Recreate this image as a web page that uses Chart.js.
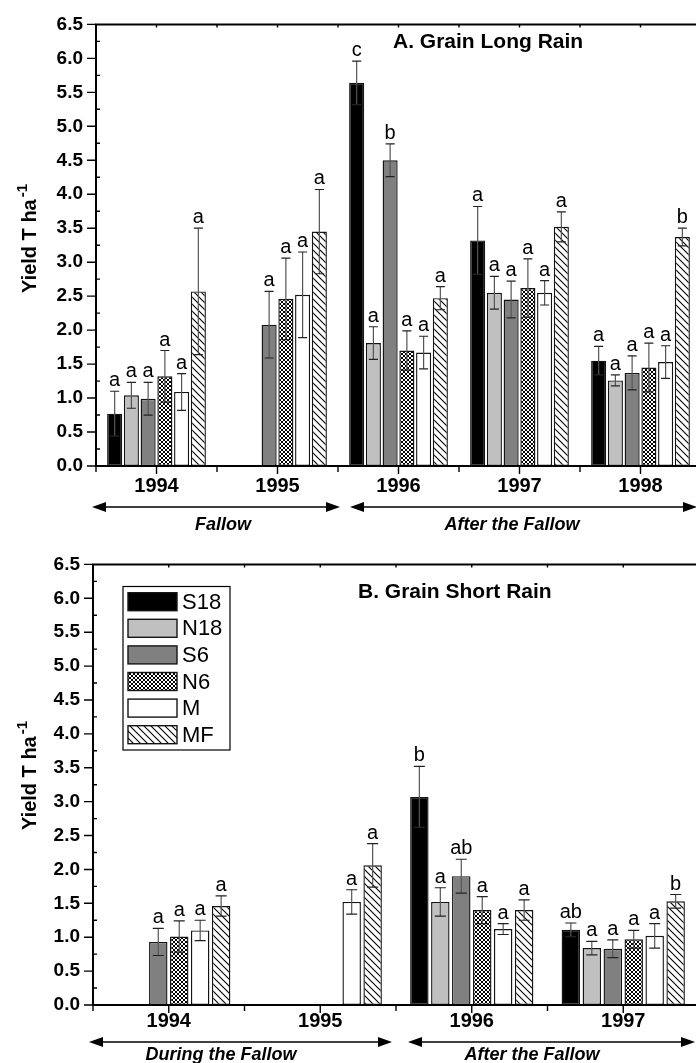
<!DOCTYPE html>
<html>
<head>
<meta charset="utf-8">
<script src="https://cdn.jsdelivr.net/npm/chart.js@4.4.1/dist/chart.umd.min.js"></script>
<style>
  html, body { margin: 0; padding: 0; background: #fff; overflow: hidden; }
  #topChart { position: absolute; left: 0; top: 0; }
  #bottomChart { position: absolute; left: 0; top: 540px; }
</style>
</head>
<body>
<canvas id="topChart" width="706" height="540"></canvas>
<canvas id="bottomChart" width="706" height="523"></canvas>
<script>
// Treatments (order of bars inside each year)
const treatments = ['S18', 'N18', 'S6', 'N6', 'M', 'MF'];

// A. Grain Long Rain
const longYears = ['1994', '1995', '1996', '1997', '1998'];
// one row per treatment: S18, N18, S6, N6, M, MF
const longYield = [
  [0.77, null, 5.64, 3.32, 1.55],
  [1.04, null, 1.81, 2.55, 1.26],
  [0.99, 2.08, 4.50, 2.45, 1.37],
  [1.32, 2.46, 1.70, 2.62, 1.45],
  [1.09, 2.52, 1.67, 2.55, 1.53],
  [2.57, 3.45, 2.47, 3.52, 3.37],
];
const longError = [
  [0.33, null, 0.32, 0.50, 0.21],
  [0.19, null, 0.24, 0.24, 0.08],
  [0.24, 0.49, 0.24, 0.27, 0.25],
  [0.38, 0.60, 0.29, 0.43, 0.36],
  [0.27, 0.63, 0.24, 0.18, 0.24],
  [0.93, 0.62, 0.17, 0.22, 0.13],
];
const longLetters = [
  ['a', null, 'c', 'a', 'a'],
  ['a', null, 'a', 'a', 'a'],
  ['a', 'a', 'b', 'a', 'a'],
  ['a', 'a', 'a', 'a', 'a'],
  ['a', 'a', 'a', 'a', 'a'],
  ['a', 'a', 'a', 'a', 'b'],
];

// B. Grain Short Rain
const shortYears = ['1994', '1995', '1996', '1997'];
const shortYield = [
  [null, null, 3.07, 1.11],
  [null, null, 1.52, 0.84],
  [0.93, null, 1.90, 0.83],
  [1.01, null, 1.40, 0.97],
  [1.10, 1.52, 1.12, 1.02],
  [1.46, 2.06, 1.40, 1.53],
];
const shortError = [
  [null, null, 0.45, 0.10],
  [null, null, 0.21, 0.10],
  [0.20, null, 0.25, 0.13],
  [0.23, null, 0.20, 0.13],
  [0.15, 0.18, 0.08, 0.18],
  [0.15, 0.32, 0.15, 0.10],
];
const shortLetters = [
  [null, null, 'b', 'ab'],
  [null, null, 'a', 'a'],
  ['a', null, 'ab', 'a'],
  ['a', null, 'a', 'a'],
  ['a', 'a', 'a', 'a'],
  ['a', 'a', 'a', 'b'],
];

const FONT = '"Liberation Sans", Arial, Helvetica, sans-serif';
Chart.defaults.font.family = FONT;
Chart.defaults.color = '#000';

// Fill patterns
function makeHatch() {
  const c = document.createElement('canvas');
  c.width = c.height = 7;
  const g = c.getContext('2d');
  g.fillStyle = '#fff';
  g.fillRect(0, 0, 7, 7);
  g.strokeStyle = '#000';
  g.lineWidth = 1.1;
  g.beginPath();
  g.moveTo(-1, -1); g.lineTo(8, 8);
  g.moveTo(-1, 6); g.lineTo(1, 8);
  g.moveTo(6, -1); g.lineTo(8, 1);
  g.stroke();
  return g.createPattern(c, 'repeat');
}

function makeCross() {
  const c = document.createElement('canvas');
  c.width = c.height = 4;
  const g = c.getContext('2d');
  g.fillStyle = '#fff';
  g.fillRect(0, 0, 4, 4);
  g.strokeStyle = '#000';
  g.lineWidth = 1;
  g.beginPath();
  g.moveTo(-1, -1); g.lineTo(5, 5);
  g.moveTo(-1, 5); g.lineTo(5, -1);
  g.stroke();
  return g.createPattern(c, 'repeat');
}

const fills = ['#000000', '#c0c0c0', '#808080', makeCross(), '#ffffff', makeHatch()];

function buildDatasets(yields, errors, letters) {
  return treatments.map((name, i) => ({
    label: name,
    data: yields[i],
    errors: errors[i],
    letters: letters[i],
    backgroundColor: fills[i],
    borderColor: '#141414',
    borderWidth: 1.4,
    borderSkipped: false,
  }));
}

// Error bars and significance letters
const errorBars = {
  id: 'errorBars',
  afterDatasetsDraw(chart) {
    const { ctx } = chart;
    const y = chart.scales.y;
    ctx.save();
    chart.data.datasets.forEach((ds, i) => {
      const meta = chart.getDatasetMeta(i);
      meta.data.forEach((bar, j) => {
        const v = ds.data[j];
        if (v == null) return;
        const e = ds.errors[j];
        const top = y.getPixelForValue(v + e);
        const bot = y.getPixelForValue(v - e);
        const cap = bar.width * 0.3;
        ctx.strokeStyle = '#555';
        ctx.lineWidth = 1.2;
        ctx.beginPath();
        ctx.moveTo(bar.x, top);
        ctx.lineTo(bar.x, bot);
        ctx.stroke();
        ctx.strokeStyle = '#222';
        ctx.beginPath();
        ctx.moveTo(bar.x - cap, top); ctx.lineTo(bar.x + cap, top);
        ctx.moveTo(bar.x - cap, bot); ctx.lineTo(bar.x + cap, bot);
        ctx.stroke();
        if (ds.letters[j]) {
          ctx.fillStyle = '#000';
          ctx.font = '20px ' + FONT;
          ctx.textAlign = 'center';
          ctx.textBaseline = 'alphabetic';
          ctx.fillText(ds.letters[j], bar.x, top - 5);
        }
      });
    });
    ctx.restore();
  },
};

// Axis frame with major / minor ticks
const frame = {
  id: 'frame',
  afterDraw(chart) {
    const { ctx, chartArea: a } = chart;
    const x = chart.scales.x;
    const y = chart.scales.y;
    const n = chart.data.labels.length;
    const w = (a.right - a.left) / n;
    ctx.save();
    ctx.strokeStyle = '#000';
    ctx.lineWidth = 2;
    ctx.beginPath();
    ctx.moveTo(a.left - 1, a.top); ctx.lineTo(a.right, a.top);
    ctx.moveTo(a.left, a.top); ctx.lineTo(a.left, a.bottom);
    ctx.moveTo(a.left - 1, a.bottom); ctx.lineTo(a.right, a.bottom);
    ctx.moveTo(a.right, a.top); ctx.lineTo(a.right, a.bottom);
    ctx.stroke();

    ctx.lineWidth = 1.4;
    ctx.beginPath();
    y.ticks.forEach((t) => {
      const py = y.getPixelForValue(t.value);
      ctx.moveTo(a.left - 9, py); ctx.lineTo(a.left, py);
      if (t.value < 6.5) {
        const pm = y.getPixelForValue(t.value + 0.25);
        ctx.moveTo(a.left, pm); ctx.lineTo(a.left + 4, pm);
      }
    });
    for (let i = 0; i < n; i++) {
      const c = x.getPixelForValue(i);
      const b = c - w / 2;
      ctx.moveTo(c, a.bottom); ctx.lineTo(c, a.bottom + 8);
      ctx.moveTo(c, a.top); ctx.lineTo(c, a.top + 3);
      ctx.moveTo(b, a.bottom); ctx.lineTo(b, a.bottom + 6);
      ctx.moveTo(b, a.top); ctx.lineTo(b, a.top + 3);
    }
    ctx.stroke();
    ctx.restore();
  },
};

function drawArrow(ctx, x1, x2, y) {
  ctx.beginPath();
  ctx.moveTo(x1 + 8, y); ctx.lineTo(x2 - 8, y);
  ctx.stroke();
  ctx.beginPath();
  ctx.moveTo(x1, y); ctx.lineTo(x1 + 14, y - 5); ctx.lineTo(x1 + 14, y + 5); ctx.closePath();
  ctx.moveTo(x2, y); ctx.lineTo(x2 - 14, y - 5); ctx.lineTo(x2 - 14, y + 5); ctx.closePath();
  ctx.fill();
}

function drawYTitle(ctx, xBase, yStart) {
  ctx.save();
  ctx.translate(xBase, yStart);
  ctx.rotate(-Math.PI / 2);
  ctx.fillStyle = '#000';
  ctx.textAlign = 'left';
  ctx.textBaseline = 'alphabetic';
  ctx.font = 'bold 20px ' + FONT;
  ctx.fillText('Yield T ha', 0, 0);
  const w = ctx.measureText('Yield T ha').width;
  ctx.font = 'bold 15px ' + FONT;
  ctx.fillText('-1', w + 2, -9);
  ctx.restore();
}

// Titles, period arrows and y title
function annotations(cfg) {
  return {
    id: 'annotations',
    afterDraw(chart) {
      const { ctx, chartArea: a } = chart;
      const x = chart.scales.x;
      const w = (a.right - a.left) / chart.data.labels.length;
      const split = x.getPixelForValue(cfg.splitAfter) + w / 2;
      ctx.save();
      ctx.fillStyle = '#000';
      ctx.font = 'bold ' + cfg.titleSize + 'px ' + FONT;
      ctx.textAlign = 'left';
      ctx.textBaseline = 'alphabetic';
      ctx.fillText(cfg.title, cfg.titleX, cfg.titleY);

      ctx.strokeStyle = '#000';
      ctx.lineWidth = 1.6;
      drawArrow(ctx, a.left - 4, split + cfg.gapLeft, cfg.arrowY);
      drawArrow(ctx, split + cfg.gapRight, a.right - 4, cfg.arrowY);

      ctx.font = 'italic bold 18px ' + FONT;
      ctx.textAlign = 'center';
      ctx.fillText(cfg.leftLabel, cfg.leftLabelX, cfg.labelY);
      ctx.fillText(cfg.rightLabel, cfg.rightLabelX, cfg.labelY);

      drawYTitle(ctx, 36, cfg.yTitleStart);
      ctx.restore();
    },
  };
}

const legendBox = {
  id: 'legendBox',
  afterDraw(chart) {
    const { ctx } = chart;
    ctx.save();
    ctx.fillStyle = '#fff';
    ctx.fillRect(123, 46.5, 107, 163.5);
    ctx.strokeStyle = '#000';
    ctx.lineWidth = 1.2;
    ctx.strokeRect(123, 46.5, 107, 163.5);
    chart.data.datasets.forEach((ds, i) => {
      const cy = 61.7 + i * 26.6;
      ctx.fillStyle = ds.backgroundColor;
      ctx.fillRect(128, cy - 9, 49, 18);
      ctx.strokeStyle = '#141414';
      ctx.lineWidth = 1.4;
      ctx.strokeRect(128, cy - 9, 49, 18);
      ctx.fillStyle = '#000';
      ctx.font = '22px ' + FONT;
      ctx.textAlign = 'left';
      ctx.textBaseline = 'middle';
      ctx.fillText(ds.label, 182, cy + 1);
    });
    ctx.restore();
  },
};

function makeOptions(pad, yWidth, xHeight, tickPad, catPct, barPct) {
  return {
    responsive: false,
    animation: false,
    events: [],
    layout: { padding: pad },
    datasets: { bar: { categoryPercentage: catPct, barPercentage: barPct } },
    plugins: { legend: { display: false }, tooltip: { enabled: false } },
    scales: {
      x: {
        type: 'category',
        offset: true,
        grid: { display: false, drawTicks: false },
        border: { display: false },
        ticks: {
          font: { size: 20, weight: 'bold' },
          color: '#000',
          padding: tickPad,
          maxRotation: 0,
          autoSkip: false,
        },
        afterFit(s) { s.height = xHeight; },
      },
      y: {
        min: 0,
        max: 6.5,
        grid: { display: false, drawTicks: false },
        border: { display: false },
        ticks: {
          stepSize: 0.5,
          autoSkip: false,
          font: { size: 19, weight: 'bold' },
          color: '#000',
          padding: 13,
          callback: (v) => Number(v).toFixed(1),
        },
        afterFit(s) { s.width = yWidth; },
      },
    },
  };
}

new Chart(document.getElementById('topChart'), {
  type: 'bar',
  data: { labels: longYears, datasets: buildDatasets(longYield, longError, longLetters) },
  options: makeOptions({ top: 22, right: 5, bottom: 0, left: 0 }, 96, 74, 8, 0.83, 0.9),
  plugins: [errorBars, frame, annotations({
    title: 'A. Grain Long Rain', titleSize: 21, titleX: 393, titleY: 48,
    splitAfter: 1, gapLeft: 2, gapRight: 12, arrowY: 507,
    leftLabel: 'Fallow', leftLabelX: 223,
    rightLabel: 'After the Fallow', rightLabelX: 512,
    labelY: 530, yTitleStart: 293,
  })],
});

new Chart(document.getElementById('bottomChart'), {
  type: 'bar',
  data: { labels: shortYears, datasets: buildDatasets(shortYield, shortError, shortLetters) },
  options: makeOptions({ top: 22, right: 7, bottom: 0, left: 0 }, 93, 58, 4, 0.83, 0.88),
  plugins: [errorBars, frame, legendBox, annotations({
    title: 'B. Grain Short Rain', titleSize: 21, titleX: 358, titleY: 58,
    splitAfter: 1, gapLeft: -4, gapRight: 12, arrowY: 502,
    leftLabel: 'During the Fallow', leftLabelX: 221,
    rightLabel: 'After the Fallow', rightLabelX: 532,
    labelY: 520, yTitleStart: 290,
  })],
});
</script>
</body>
</html>
